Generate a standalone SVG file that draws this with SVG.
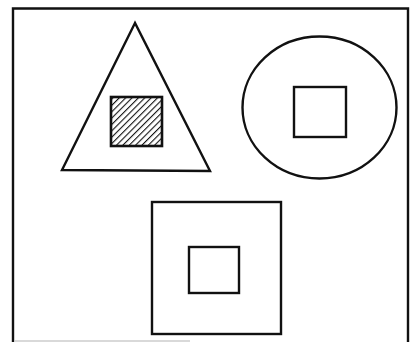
<svg xmlns="http://www.w3.org/2000/svg" width="414" height="342" viewBox="0 0 414 342">
<style>
.s{fill:none;stroke:#111;stroke-width:2.4;stroke-linejoin:miter}
</style>
<defs>
<pattern id="hatch" patternUnits="userSpaceOnUse" width="4.5" height="4.5" patternTransform="rotate(45)">
<rect width="4.5" height="4.5" fill="#fff"/>
<line x1="0" y1="0" x2="0" y2="4.5" stroke="#111" stroke-width="2.2"/>
</pattern>
</defs>
<rect width="414" height="342" fill="#fff"/>
<g id="frame">
<path class="s" d="M13,346 V8.5 H408 V346"/>
<line x1="14" y1="341" x2="190" y2="341" stroke="#ccc" stroke-width="1.5"/>
</g>
<g id="triangle">
<polygon class="s" points="135,23 62,170 210,171"/>
<rect x="111" y="97" width="51" height="49" fill="url(#hatch)" stroke="#111" stroke-width="2.6"/>
</g>
<g id="circle">
<ellipse class="s" cx="319.5" cy="107.5" rx="77" ry="71"/>
<rect class="s" x="294" y="87" width="52" height="50"/>
</g>
<g id="square">
<rect class="s" x="152" y="202" width="129" height="132"/>
<rect class="s" x="189" y="247" width="50" height="46"/>
</g>
</svg>
